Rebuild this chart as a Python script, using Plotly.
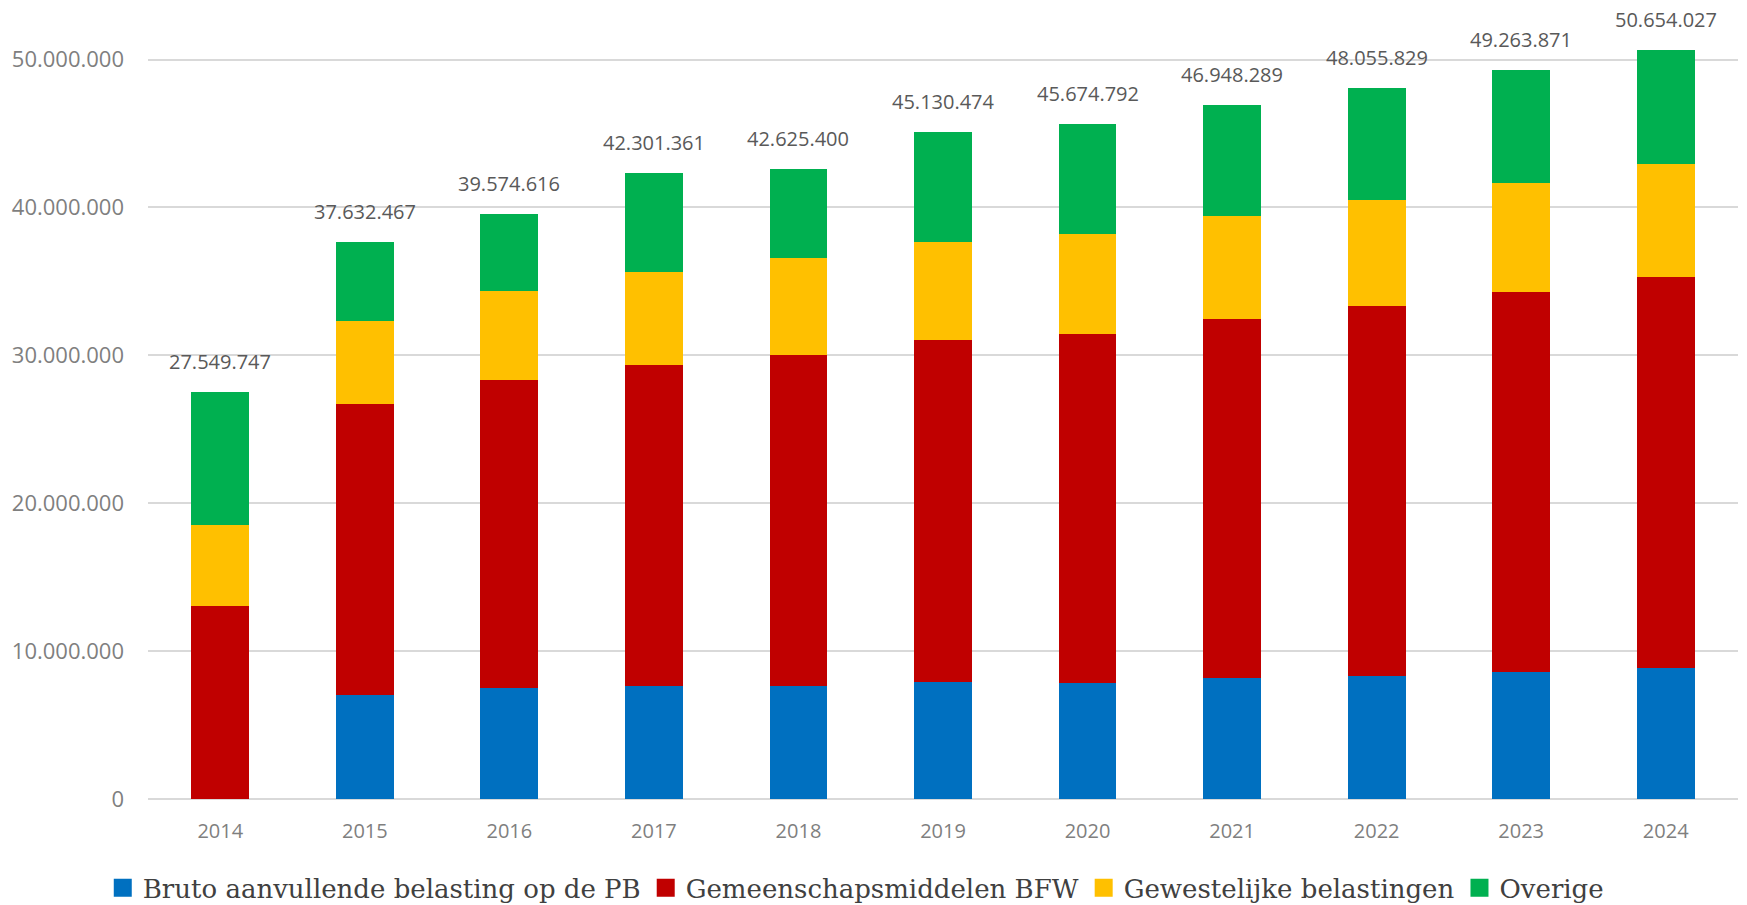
import plotly.graph_objects as go

years = [2014, 2015, 2016, 2017, 2018, 2019, 2020, 2021, 2022, 2023, 2024]
bruto = [0, 7.05e6, 7.51e6, 7.66e6, 7.62e6, 7.91e6, 7.85e6, 8.15e6, 8.34e6, 8.62e6, 8.88e6]
gemeenschap = [13.06e6, 19.68e6, 20.85e6, 21.69e6, 22.43e6, 23.11e6, 23.57e6, 24.31e6, 24.97e6, 25.68e6, 26.43e6]
gewestelijk = [5.46e6, 5.60e6, 5.99e6, 6.27e6, 6.55e6, 6.66e6, 6.79e6, 6.96e6, 7.20e6, 7.38e6, 7.63e6]
overige = [9.03e6, 5.30e6, 5.22e6, 6.68e6, 6.03e6, 7.45e6, 7.46e6, 7.53e6, 7.55e6, 7.58e6, 7.71e6]
totals = [27549747, 37632467, 39574616, 42301361, 42625400, 45130474, 45674792, 46948289, 48055829, 49263871, 50654027]

series = [
    ("Bruto aanvullende belasting op de PB", bruto, "#0070C0"),
    ("Gemeenschapsmiddelen BFW", gemeenschap, "#C00000"),
    ("Gewestelijke belastingen", gewestelijk, "#FFC000"),
    ("Overige", overige, "#00B050"),
]

fig = go.Figure()
for name, vals, col in series:
    fig.add_trace(go.Bar(x=years, y=vals, name=name, width=0.4,
                         marker=dict(color=col, line=dict(width=0)),
                         showlegend=False))
for name, vals, col in series:
    fig.add_trace(go.Scatter(x=[years[0]], y=[None], mode="markers", name=name,
                             marker=dict(symbol="square", size=16, color=col, line=dict(color=col, width=2))))

def fmt(v):
    return f"{v:,}".replace(",", ".")

for yr, t in zip(years, totals):
    fig.add_annotation(x=yr, y=t, text=fmt(t), showarrow=False, yanchor="bottom", yshift=15,
                       font=dict(family="Open Sans", size=20, color="#595959"))

fig.update_layout(
    width=1739, height=897,
    barmode="stack",
    plot_bgcolor="white", paper_bgcolor="white",
    separators=",.",
    margin=dict(l=140, r=9, t=2, b=106, autoexpand=False),
    legend=dict(orientation="h", xref="container", yref="container", x=0.4875, xanchor="center",
                y=0.019, yanchor="middle", font=dict(family="DejaVu Serif", size=26, color="#404040"),
                traceorder="normal", itemwidth=30),
    xaxis=dict(range=[2013.5, 2024.5], tickvals=years, tickformat="d", showgrid=False, showline=False,
               zeroline=False, ticks="",
               tickfont=dict(family="Open Sans", size=20, color="#7f7f7f"), ticklabelstandoff=18),
    yaxis=dict(range=[0, 53.35e6], tickvals=[0, 1e7, 2e7, 3e7, 4e7, 5e7], tickformat=",.0f",
               showgrid=True, gridcolor="#d9d9d9", gridwidth=1.5, zeroline=True, zerolinecolor="#d9d9d9",
               zerolinewidth=1.5, showline=False, ticks="",
               tickfont=dict(family="Open Sans", size=22, color="#7f7f7f"), ticklabelstandoff=23),
)

fig.write_html("out.html")
